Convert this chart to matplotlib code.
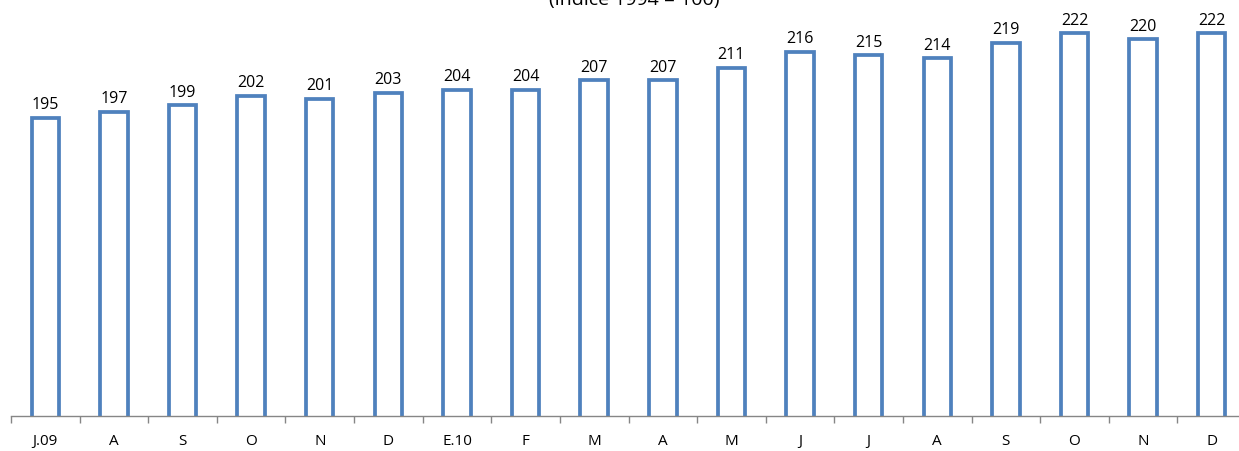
import matplotlib.pyplot as plt

# monthly index values (1994 = 100)
months = ["J.09", "A", "S", "O", "N", "D", "E.10", "F", "M", "A",
          "M", "J", "J", "A", "S", "O", "N", "D"]
values = [195, 197, 199, 202, 201, 203, 204, 204, 207, 207,
          211, 216, 215, 214, 219, 222, 220, 222]

plt.rcParams['font.family'] = ['Open Sans', 'DejaVu Sans']

fig = plt.figure(figsize=(12.39, 4.52), dpi=100)
ax = fig.add_axes([11 / 1239, 35 / 452, 1235 / 1239, 408 / 452])

x = list(range(len(values)))
bars = ax.bar(x, values, width=0.40, bottom=0, color="white",
              edgecolor="#4F81BD", linewidth=2.7)

for xi, v in zip(x, values):
    ax.annotate(str(v), (xi, v), xytext=(0, 4), textcoords="offset points",
                ha="center", va="bottom", fontsize=11.5, color="black")

ax.set_xlim(-0.5, len(values) - 0.5)
ax.set_ylim(100, 230)

# category labels at bar centres, tick marks at boundaries
ax.set_xticks(x)
ax.set_xticklabels(months, fontsize=11)
ax.tick_params(axis="x", which="major", length=0, pad=12)
ax.set_xticks([i - 0.5 for i in range(len(values) + 1)], minor=True)
ax.tick_params(axis="x", which="minor", length=5, color="#868686", width=1)

ax.set_yticks([])
for side in ["left", "right", "top"]:
    ax.spines[side].set_visible(False)
ax.spines["bottom"].set_color("#868686")
ax.spines["bottom"].set_linewidth(1)

fig.text(0.512, 1 - 5 / 452, "(índice 1994 = 100)", ha="center",
         va="baseline", fontsize=14)

fig.savefig("out.png", dpi=100)
